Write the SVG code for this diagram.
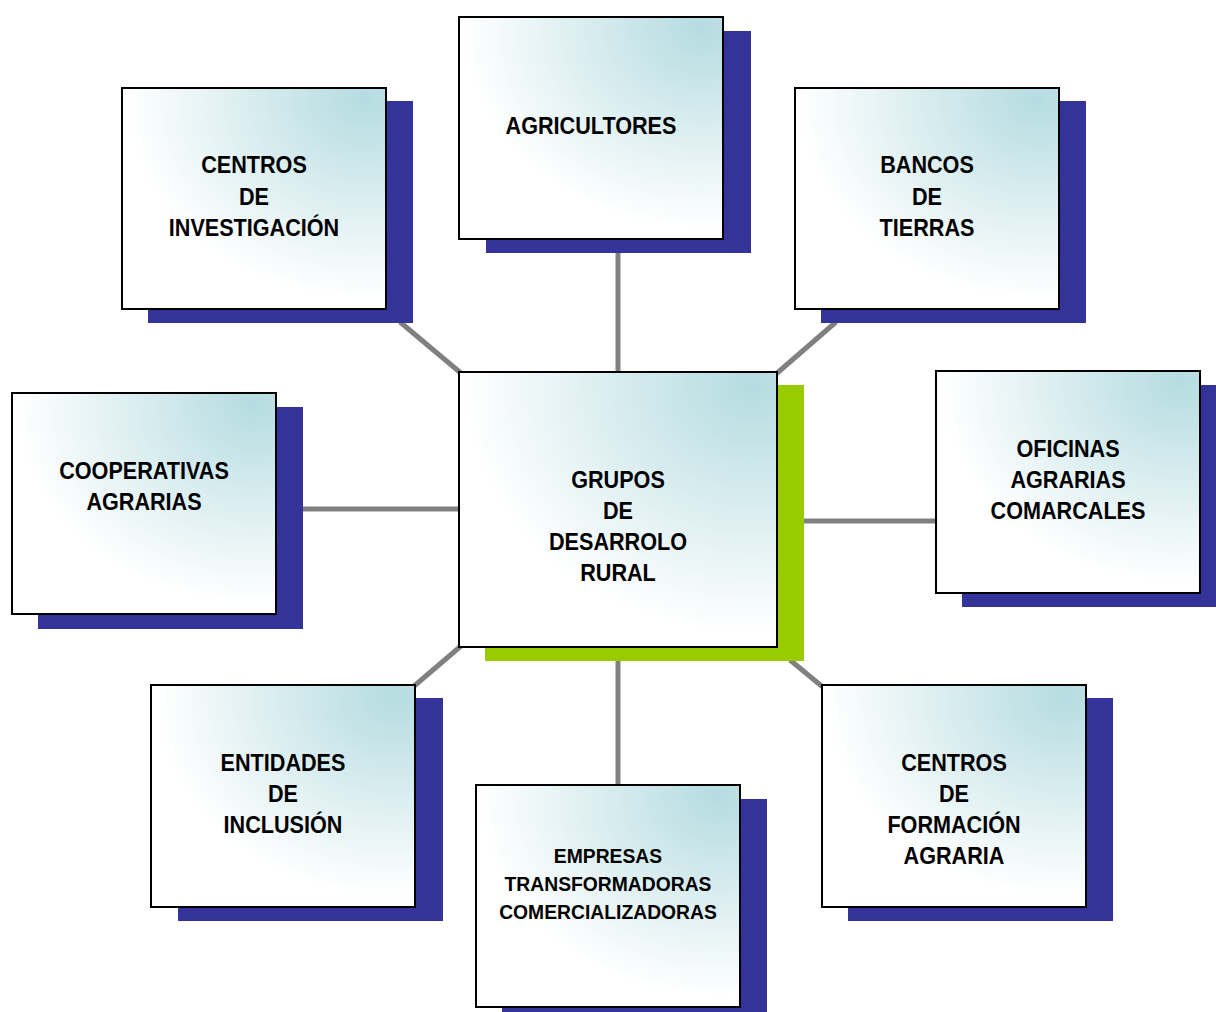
<svg xmlns="http://www.w3.org/2000/svg" width="1216" height="1012" viewBox="0 0 1216 1012">
<defs>
<radialGradient id="fill" cx="0.92" cy="0.05" r="0.9" fx="0.92" fy="0.05">
<stop offset="0" stop-color="#b5dce1"/>
<stop offset="0.35" stop-color="#cfe8eb"/>
<stop offset="1" stop-color="#ffffff"/>
</radialGradient>
<style>
.box{fill:url(#fill);stroke:#000;stroke-width:2}
.sh{fill:#333399}
.shg{fill:#99cc00}
.t{font-family:"Liberation Sans",Arial,sans-serif;font-weight:bold;font-size:24px;fill:#000;text-anchor:middle}
.ts{font-size:21px}
.c{stroke:#808080;stroke-width:5;fill:none}
</style>
</defs>
<rect width="1216" height="1012" fill="#fff"/>
<g id="connectors">
<line class="c" x1="400" y1="322" x2="462" y2="374"/>
<line class="c" x1="618" y1="252" x2="618" y2="372"/>
<line class="c" x1="836" y1="322" x2="776" y2="374"/>
<line class="c" x1="302" y1="509" x2="459" y2="509"/>
<line class="c" x1="804" y1="521" x2="936" y2="521"/>
<line class="c" x1="413" y1="687" x2="461" y2="646"/>
<line class="c" x1="618" y1="660" x2="618" y2="785"/>
<line class="c" x1="790" y1="660" x2="824" y2="688"/>
</g>
<g id="centros-investigacion">
<rect class="sh" x="148" y="101" width="265" height="222"/>
<rect class="box" x="122" y="88" width="264" height="221"/>
<g transform="translate(254,0) scale(0.9,1)"><text class="t"><tspan x="0" y="173">CENTROS</tspan><tspan x="0" y="205">DE</tspan><tspan x="0" y="236">INVESTIGACIÓN</tspan></text></g>
</g>
<g id="agricultores">
<rect class="sh" x="486" y="31" width="265" height="222"/>
<rect class="box" x="459" y="17" width="264" height="222"/>
<g transform="translate(591,0) scale(0.9,1)"><text class="t" x="0" y="134">AGRICULTORES</text></g>
</g>
<g id="bancos-tierras">
<rect class="sh" x="821" y="101" width="265" height="222"/>
<rect class="box" x="795" y="88" width="264" height="221"/>
<g transform="translate(927,0) scale(0.9,1)"><text class="t"><tspan x="0" y="173">BANCOS</tspan><tspan x="0" y="205">DE</tspan><tspan x="0" y="236">TIERRAS</tspan></text></g>
</g>
<g id="cooperativas">
<rect class="sh" x="38" y="407" width="265" height="222"/>
<rect class="box" x="12" y="393" width="264" height="221"/>
<g transform="translate(144,0) scale(0.9,1)"><text class="t"><tspan x="0" y="479">COOPERATIVAS</tspan><tspan x="0" y="510">AGRARIAS</tspan></text></g>
</g>
<g id="grupos-desarrollo">
<rect class="shg" x="485" y="385" width="319" height="276"/>
<rect class="box" x="459" y="372" width="318" height="275"/>
<g transform="translate(618,0) scale(0.9,1)"><text class="t"><tspan x="0" y="488">GRUPOS</tspan><tspan x="0" y="519">DE</tspan><tspan x="0" y="550">DESARROLO</tspan><tspan x="0" y="581">RURAL</tspan></text></g>
</g>
<g id="oficinas">
<rect class="sh" x="962" y="385" width="254" height="222"/>
<rect class="box" x="936" y="371" width="264" height="222"/>
<g transform="translate(1068,0) scale(0.9,1)"><text class="t"><tspan x="0" y="457">OFICINAS</tspan><tspan x="0" y="488">AGRARIAS</tspan><tspan x="0" y="519">COMARCALES</tspan></text></g>
</g>
<g id="entidades-inclusion">
<rect class="sh" x="178" y="698" width="265" height="223"/>
<rect class="box" x="151" y="685" width="264" height="222"/>
<g transform="translate(283,0) scale(0.9,1)"><text class="t"><tspan x="0" y="771">ENTIDADES</tspan><tspan x="0" y="802">DE</tspan><tspan x="0" y="833">INCLUSIÓN</tspan></text></g>
</g>
<g id="empresas">
<rect class="sh" x="502" y="799" width="265" height="213"/>
<rect class="box" x="476" y="785" width="264" height="222"/>
<g transform="translate(608,0) scale(0.92,1)"><text class="t ts"><tspan x="0" y="863">EMPRESAS</tspan><tspan x="0" y="891">TRANSFORMADORAS</tspan><tspan x="0" y="919">COMERCIALIZADORAS</tspan></text></g>
</g>
<g id="centros-formacion">
<rect class="sh" x="848" y="698" width="265" height="223"/>
<rect class="box" x="822" y="685" width="264" height="222"/>
<g transform="translate(954,0) scale(0.9,1)"><text class="t"><tspan x="0" y="771">CENTROS</tspan><tspan x="0" y="802">DE</tspan><tspan x="0" y="833">FORMACIÓN</tspan><tspan x="0" y="864">AGRARIA</tspan></text></g>
</g>
</svg>
